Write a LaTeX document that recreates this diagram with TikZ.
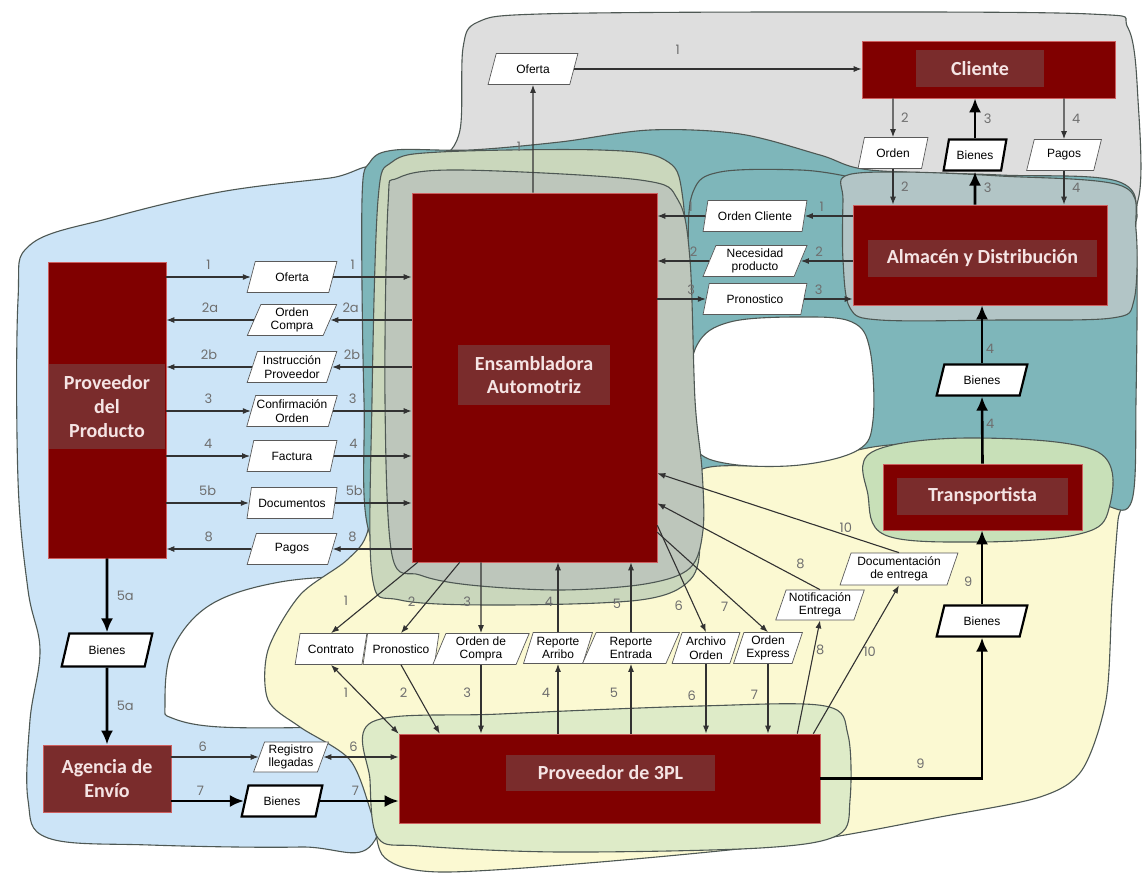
\documentclass[tikz,border=0pt]{standalone}
\usepackage{fontspec}
\setmainfont{Liberation Sans}
\newfontfamily\cajafont{Carlito}
\newfontfamily\numfont{Poppins}
\usetikzlibrary{arrows.meta, shapes.geometric, calc}

\definecolor{rojocaja}{RGB}{128,0,0}
\definecolor{rojoetiq}{RGB}{122,44,44}
\definecolor{bordecaja}{RGB}{205,95,95}
\definecolor{textocaja}{RGB}{245,228,228}
\definecolor{bordedato}{RGB}{90,90,90}
\definecolor{linea}{RGB}{50,50,50}
\definecolor{gristexto}{RGB}{110,110,110}
\definecolor{contorno}{RGB}{78,88,84}
\definecolor{azul}{RGB}{204,228,247}
\definecolor{grisfondo}{RGB}{222,222,222}
\definecolor{teal}{RGB}{126,182,186}
\definecolor{gristeal}{RGB}{178,197,198}
\definecolor{amarillo}{RGB}{251,249,210}
\definecolor{verdeens}{RGB}{202,215,188}
\definecolor{grisens}{RGB}{189,198,187}
\definecolor{verde3pl}{RGB}{222,235,200}
\definecolor{verdetrans}{RGB}{200,224,184}

\begin{document}
\begin{tikzpicture}[x=1pt, y=-1pt,
    blob/.style={draw=contorno, line width=1.1pt},
    caja/.style={draw=bordecaja, line width=0.6pt, fill=rojocaja, inner sep=0pt},
    etiq/.style={fill=rojoetiq, inner sep=0pt, text=textocaja, align=center,
        font=\cajafont\bfseries\fontsize{20}{23}\selectfont},
    dato/.style={trapezium, trapezium left angle=70, trapezium right angle=110,
        trapezium stretches=true, draw=bordedato, line width=0.7pt, fill=white,
        inner sep=1pt, minimum height=31pt, align=center,
        font=\fontsize{12}{13.5}\selectfont},
    bien/.style={dato, draw=black, line width=2.2pt},
    arr/.style={-{Latex[length=8pt, width=6pt]}, line width=1.1pt, draw=linea},
    arrdoble/.style={{Latex[length=8pt, width=6pt]}-{Latex[length=8pt, width=6pt]},
        line width=1.1pt, draw=linea},
    arrbien/.style={-{Latex[length=14pt, width=12pt]}, line width=2.6pt, draw=black},
    num/.style={font=\numfont\fontsize{13}{13}\selectfont, text=gristexto, inner sep=1.5pt},
]
    \useasboundingbox[fill=white] (0,0) rectangle (1142,875);

    % regiones de fondo
    \draw[blob, fill=azul] plot[smooth cycle, tension=0.6] coordinates {
        (30,245) (110,218) (220,192) (330,178) (378,172) (392,260) (398,400)
        (400,560) (385,700) (375,840) (300,847) (150,845) (48,838) (28,800)
        (30,720) (40,650) (28,590) (18,480) (18,300)};
    \draw[blob, fill=white] plot[smooth cycle, tension=0.6] coordinates {
        (165,705) (172,650) (210,605) (280,582) (370,576) (440,580) (445,650)
        (430,722) (330,727) (220,727) (172,718)};
    \draw[blob, fill=amarillo] plot[smooth cycle, tension=0.5] coordinates {
        (347,560) (300,595) (268,650) (268,700) (300,727) (350,760) (372,815)
        (385,858) (440,872) (600,862) (800,842) (940,817) (1040,797) (1082,770)
        (1106,700) (1112,600) (1118,520) (1125,470) (1000,420) (700,330)
        (400,330) (375,450) (368,530)};
    \draw[blob, fill=grisfondo] plot[smooth cycle, tension=0.55] coordinates {
        (463,48) (478,22) (540,14) (800,12) (1090,14) (1128,28) (1138,100)
        (1138,200) (1100,230) (800,230) (520,215) (400,178) (440,160) (460,130)};
    \draw[blob, fill=teal] plot[smooth cycle, tension=0.55] coordinates {
        (362,200) (370,162) (395,150) (470,150) (560,142) (650,130) (740,134)
        (820,155) (870,170) (1000,175) (1122,183) (1136,240) (1136,400)
        (1132,500) (1105,505) (1040,470) (960,445) (880,446) (790,465)
        (700,470) (690,520) (640,590) (450,590) (372,540) (364,400)};
    \draw[blob, fill=gristeal] plot[smooth cycle, tension=0.55] coordinates {
        (845,176) (900,172) (1000,176) (1122,186) (1136,230) (1134,300)
        (1112,318) (1000,320) (880,320) (850,308) (843,260) (843,200)};
    \draw[blob] plot[smooth, tension=0.6] coordinates {
        (690,335) (688,250) (693,192) (720,172) (800,170) (845,176)};
    \draw[blob, fill=white] plot[smooth cycle, tension=0.6] coordinates {
        (697,345) (730,322) (800,317) (852,322) (870,350) (873,420) (858,450)
        (800,465) (730,464) (695,448) (688,400)};
    \draw[blob, fill=verdeens] plot[smooth cycle, tension=0.55] coordinates {
        (378,200) (392,162) (440,152) (600,150) (665,160) (683,200) (690,350)
        (692,480) (700,540) (690,580) (640,600) (500,605) (400,600) (372,575)
        (372,400)};
    \draw[blob, fill=grisens] plot[smooth cycle, tension=0.55] coordinates {
        (388,205) (398,178) (460,170) (640,180) (678,200) (690,260) (695,400)
        (702,470) (703,530) (690,568) (645,584) (560,590) (470,585) (420,575)
        (392,555) (385,400)};
    \draw[blob, fill=verde3pl] plot[smooth cycle, tension=0.55] coordinates {
        (372,722) (500,714) (700,706) (825,706) (848,735) (850,800) (838,835)
        (760,848) (560,852) (420,846) (378,838) (370,780)};
    \draw[blob, fill=verdetrans] plot[smooth cycle, tension=0.6] coordinates {
        (872,452) (970,438) (1098,452) (1108,512) (1075,535) (975,542)
        (885,535) (868,495)};

    % actores
    \node[caja, minimum width=253pt, minimum height=57pt] (cliente) at (988.5,69.5) {};
    \node[etiq, minimum width=128pt, minimum height=37pt] (clienteTxt) at (980,68.5) {Cliente};
    \node[caja, minimum width=254pt, minimum height=100pt] (alm) at (980,255) {};
    \node[etiq, minimum width=229pt, minimum height=37pt] (almTxt) at (982.5,258.5)
        {Almacén y Distribución};
    \node[caja, minimum width=245pt, minimum height=369pt] (ens) at (534.5,377.5) {};
    \node[etiq, minimum width=152pt, minimum height=60pt] (ensTxt) at (534,375)
        {Ensambladora\\Automotriz};
    \node[caja, minimum width=118pt, minimum height=296pt] (pdp) at (107,410) {};
    \node[etiq, minimum width=116pt, minimum height=85pt,
        font=\cajafont\bfseries\fontsize{20}{24}\selectfont] (pdpTxt) at (107,406.5)
        {Proveedor\\del\\Producto};
    \node[etiq, draw=bordecaja, line width=0.8pt, minimum width=128pt, minimum height=67pt,
        font=\cajafont\bfseries\fontsize{20}{24}\selectfont] (agencia) at (107,778.5)
        {Agencia de\\Envío};
    \node[caja, minimum width=421pt, minimum height=89pt] (p3pl) at (609.5,778.5) {};
    \node[etiq, minimum width=209pt, minimum height=36pt] (p3plTxt) at (610.5,773)
        {Proveedor de 3PL};
    \node[caja, minimum width=199pt, minimum height=66pt] (trans) at (982.5,497) {};
    \node[etiq, minimum width=171pt, minimum height=37pt] (transTxt) at (982.5,496.5)
        {Transportista};

    % flujos de informacion y bienes
    \node[dato, minimum width=90pt] (ofertaSup) at (533,69) {Oferta};
    \node[dato, minimum width=70pt] (orden) at (893,153) {Orden};
    \node[bien, minimum width=63pt] (bienesSup) at (975,155) {Bienes};
    \node[dato, minimum width=75pt] (pagosSup) at (1064,155) {Pagos};
    \node[dato, minimum width=104pt] (ordenCli) at (755,216) {Orden Cliente};
    \node[dato, minimum width=104pt] (necesidad) at (755,261) {Necesidad\\producto};
    \node[dato, minimum width=104pt] (pronDer) at (755,299) {Pronostico};
    \node[dato, minimum width=90pt] (ofertaIzq) at (292,277) {Oferta};
    \node[dato, minimum width=90pt] (ordenCompra) at (292,320) {Orden\\Compra};
    \node[dato, minimum width=90pt] (instruccion) at (292,367) {Instrucción\\Proveedor};
    \node[dato, minimum width=90pt] (confirmacion) at (292,411) {Confirmación\\Orden};
    \node[dato, minimum width=90pt] (factura) at (292,456) {Factura};
    \node[dato, minimum width=90pt] (documentos) at (292,503) {Documentos};
    \node[dato, minimum width=90pt] (pagosIzq) at (292,549) {Pagos};
    \node[bien, minimum width=91pt, minimum height=33pt] (bienesIzq) at (107,650) {Bienes};
    \node[dato, minimum width=75pt, minimum height=30pt] (registro) at (291,757) {Registro\\llegadas};
    \node[bien, minimum width=81pt] (bienesInf) at (282,801) {Bienes};
    \node[dato, minimum width=72pt] (contrato) at (331,649) {Contrato};
    \node[dato, minimum width=76pt] (pronInf) at (401,649) {Pronostico};
    \node[dato, minimum width=97pt] (ordenDeCompra) at (481,649) {Orden de\\Compra};
    \node[dato, minimum width=69pt] (arribo) at (558,648) {Reporte\\Arribo};
    \node[dato, minimum width=97pt] (entrada) at (631,648) {Reporte\\Entrada};
    \node[dato, minimum width=68pt] (archivo) at (706,648) {Archivo\\Orden};
    \node[dato, minimum width=69pt] (express) at (768,648) {Orden\\Express};
    \node[dato, minimum width=89pt, minimum height=30pt] (notif) at (820,605) {Notificación\\Entrega};
    \node[dato, minimum width=118pt, minimum height=32pt] (docEntrega) at (899,569)
        {Documentación\\de entrega};
    \node[bien, minimum width=91pt] (bienesDer) at (982,621) {Bienes};
    \node[bien, minimum width=91pt] (bienesMid) at (982,380) {Bienes};

    % arriba
    \draw[arr] (ofertaSup |- ens.north) -- (ofertaSup.south)
        node[num, pos=0.43, left=10pt] (k1) {1};
    \draw[arr] (ofertaSup.east) -- (ofertaSup.east -| cliente.west)
        node[num, pos=0.36, above=12pt] (k2) {1};
    \draw[arr] (orden |- cliente.south) -- (orden.north) node[num, midway, right=6pt] (k3) {2};
    \draw[arr] (orden.south) -- (orden.south |- alm.north) node[num, midway, right=6pt] (k4) {2};
    \draw[arrbien] (bienesSup |- alm.north) -- (bienesSup.south)
        node[num, midway, right=6pt] (k5) {3};
    \draw[arrbien] (bienesSup.north) -- (bienesSup.north |- cliente.south)
        node[num, midway, right=6pt] (k6) {3};
    \draw[arr] (pagosSup |- cliente.south) -- (pagosSup.north) node[num, midway, right=6pt] (k7) {4};
    \draw[arr] (pagosSup.south) -- (pagosSup.south |- alm.north) node[num, midway, right=6pt] (k8) {4};

    % almacen - ensambladora
    \draw[arr] (ordenCli.east -| alm.west) -- (ordenCli.east) node[num, pos=0.65, above=2pt] (k9) {1};
    \draw[arr] (ordenCli.west) -- (ordenCli.west -| ens.east) node[num, pos=0.3, above=2pt] (k10) {1};
    \draw[arr] (necesidad.east -| alm.west) -- (necesidad.east) node[num, pos=0.65, above=2pt] (k11) {2};
    \draw[arr] (necesidad.west) -- (necesidad.west -| ens.east) node[num, pos=0.3, above=2pt] (k12) {2};
    \draw[arr] (pronDer.west -| ens.east) -- (pronDer.west) node[num, pos=0.7, above=2pt] (k13) {3};
    \draw[arr] (pronDer.east) -- (pronDer.east -| alm.west) node[num, pos=0.3, above=2pt] (k14) {3};

    % proveedor del producto - ensambladora
    \draw[arr] (ofertaIzq.west -| pdp.east) -- (ofertaIzq.west) node[num, midway, above=5pt] (k15) {1};
    \draw[arr] (ofertaIzq.east) -- (ofertaIzq.east -| ens.west) node[num, pos=0.25, above=5pt] (k16) {1};
    \draw[arr] (ordenCompra.east -| ens.west) -- (ordenCompra.east) node[num, pos=0.75, above=5pt] (k17) {2a};
    \draw[arr] (ordenCompra.west) -- (ordenCompra.west -| pdp.east) node[num, midway, above=5pt] (k18) {2a};
    \draw[arr] (instruccion.east -| ens.west) -- (instruccion.east) node[num, pos=0.75, above=5pt] (k19) {2b};
    \draw[arr] (instruccion.west) -- (instruccion.west -| pdp.east) node[num, midway, above=5pt] (k20) {2b};
    \draw[arr] (confirmacion.west -| pdp.east) -- (confirmacion.west) node[num, midway, above=5pt] (k21) {3};
    \draw[arr] (confirmacion.east) -- (confirmacion.east -| ens.west) node[num, pos=0.25, above=5pt] (k22) {3};
    \draw[arr] (factura.west -| pdp.east) -- (factura.west) node[num, midway, above=5pt] (k23) {4};
    \draw[arr] (factura.east) -- (factura.east -| ens.west) node[num, pos=0.25, above=5pt] (k24) {4};
    \draw[arr] (documentos.west -| pdp.east) -- (documentos.west) node[num, midway, above=5pt] (k25) {5b};
    \draw[arr] (documentos.east) -- (documentos.east -| ens.west) node[num, pos=0.25, above=5pt] (k26) {5b};
    \draw[arr] (pagosIzq.east -| ens.west) -- (pagosIzq.east) node[num, pos=0.75, above=5pt] (k27) {8};
    \draw[arr] (pagosIzq.west) -- (pagosIzq.west -| pdp.east) node[num, midway, above=5pt] (k28) {8};

    % proveedor del producto - agencia - 3PL
    \draw[arrbien] (pdp.south) -- (bienesIzq.north) node[num, midway, right=7pt] (k29) {5a};
    \draw[arrbien] (bienesIzq.south) -- (agencia.north) node[num, midway, right=7pt] (k30) {5a};
    \draw[arr] (agencia.east |- registro.west) -- (registro.west) node[num, pos=0.36, above=3pt] (k31) {6};
    \draw[arrdoble] (registro.east) -- (registro.east -| p3pl.west) node[num, pos=0.4, above=3pt] (k32) {6};
    \draw[arrbien] (agencia.east |- bienesInf.west) -- (bienesInf.west) node[num, pos=0.4, above=3pt] (k33) {7};
    \draw[arrbien] (bienesInf.east) -- (bienesInf.east -| p3pl.west) node[num, pos=0.45, above=3pt] (k34) {7};

    % ensambladora - 3PL
    \draw[arr] ($(ens.south west)+(6,0)$) -- (contrato.north) node[num, pos=0.55, left=20pt] (k35) {1};
    \draw[arrdoble] (contrato.south) -- (p3pl.north west) node[num, pos=0.4, left=8pt] (k36) {1};
    \draw[arr] ($(ens.south west)+(48,0)$) -- (pronInf.north) node[num, pos=0.55, left=10pt] (k37) {2};
    \draw[arr] (pronInf.south) -- ($(p3pl.north west)+(41,0)$) node[num, pos=0.4, left=7pt] (k38) {2};
    \draw[arr] (ordenDeCompra |- ens.south) -- (ordenDeCompra.north) node[num, pos=0.55, left=8pt] (k39) {3};
    \draw[arr] (ordenDeCompra.south) -- (ordenDeCompra.south |- p3pl.north) node[num, pos=0.4, left=8pt] (k40) {3};
    \draw[arr] (arribo.south |- p3pl.north) -- (arribo.south) node[num, pos=0.58, left=6pt] (k41) {4};
    \draw[arr] (arribo.north) -- (arribo.north |- ens.south) node[num, pos=0.44, left=3pt] (k42) {4};
    \draw[arr] (entrada.south |- p3pl.north) -- (entrada.south) node[num, pos=0.58, left=11pt] (k43) {5};
    \draw[arr] (entrada.north) -- (entrada.north |- ens.south) node[num, pos=0.4, left=8pt] (k44) {5};
    \draw[arr] ($(ens.south east)+(0,-37)$) -- (archivo.north) node[num, pos=0.75, left=9pt] (k45) {6};
    \draw[arr] (archivo.south) -- (archivo.south |- p3pl.north) node[num, pos=0.45, left=8pt] (k46) {6};
    \draw[arr] ($(ens.south east)+(0,-30)$) -- (express.north) node[num, pos=0.75, left=10pt] (k47) {7};
    \draw[arr] (express.south) -- (express.south |- p3pl.north) node[num, pos=0.45, left=8pt] (k48) {7};
    \draw[arr] ($(p3pl.north east)+(-23,0)$) -- (notif.south) node[num, pos=0.74, right=0pt] (k49) {8};
    \draw[arr] (notif.north) -- ($(ens.south east)+(0,-59)$) node[num, pos=0.12, above=8pt] (k50) {8};
    \draw[arr] ($(p3pl.north east)+(-7,0)$) -- (docEntrega.south) node[num, pos=0.55, right=1pt] (k51) {10};
    \draw[arr] (docEntrega.north) -- ($(ens.south east)+(0,-89)$) node[num, pos=0.22, above=1pt] (k52) {10};

    % 3PL - transportista - almacen
    \draw[arrbien] (p3pl.east) -| node[num, pos=0.31, above=7pt] (k53) {9} (bienesDer.south);
    \draw[arrbien] (bienesDer.north) -- (bienesDer.north |- trans.south) node[num, pos=0.3, left=7pt] (k54) {9};
    \draw[arrbien] (trans.north) -- (bienesMid.south) node[num, pos=0.6, right=1pt] (k55) {4};
    \draw[arrbien] (bienesMid.north) -- (bienesMid.north |- alm.south) node[num, pos=0.25, right=1pt] (k56) {4};
\end{tikzpicture}
\end{document}
